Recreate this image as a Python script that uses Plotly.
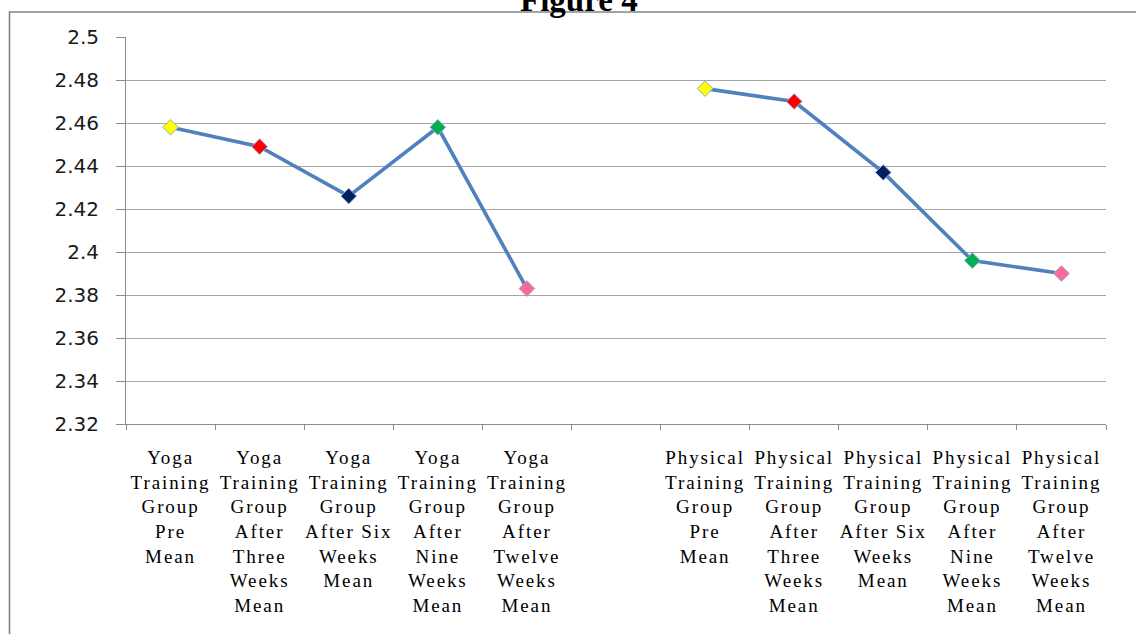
import plotly.graph_objects as go

# Category tick labels (wrapped as in the printed figure); the empty slot separates the two groups
tick_labels = [
    "Yoga<br>Training<br>Group<br>Pre<br>Mean",
    "Yoga<br>Training<br>Group<br>After<br>Three<br>Weeks<br>Mean",
    "Yoga<br>Training<br>Group<br>After Six<br>Weeks<br>Mean",
    "Yoga<br>Training<br>Group<br>After<br>Nine<br>Weeks<br>Mean",
    "Yoga<br>Training<br>Group<br>After<br>Twelve<br>Weeks<br>Mean",
    "",
    "Physical<br>Training<br>Group<br>Pre<br>Mean",
    "Physical<br>Training<br>Group<br>After<br>Three<br>Weeks<br>Mean",
    "Physical<br>Training<br>Group<br>After Six<br>Weeks<br>Mean",
    "Physical<br>Training<br>Group<br>After<br>Nine<br>Weeks<br>Mean",
    "Physical<br>Training<br>Group<br>After<br>Twelve<br>Weeks<br>Mean",
]

# Mean values per measurement (None = gap between the groups)
mean_values = [2.458, 2.449, 2.426, 2.458, 2.383, None, 2.476, 2.470, 2.437, 2.396, 2.390]

y_tick_values = [2.32, 2.34, 2.36, 2.38, 2.40, 2.42, 2.44, 2.46, 2.48, 2.50]
y_tick_labels = ["2.32", "2.34", "2.36", "2.38", "2.4", "2.42", "2.44", "2.46", "2.48", "2.5"]

# Marker fill per stage: pre, 3 weeks, 6 weeks, 9 weeks, 12 weeks
stage_colors = ["#FFFF00", "#FF0000", "#002060", "#00B050", "#FF6699"]
marker_colors = stage_colors + ["#FFFFFF"] + stage_colors

x_pos = list(range(len(tick_labels)))


def spaced(label):
    # widen the serif category text a little, line by line
    return "<br>".join(
        '<span style="letter-spacing:1.9px">%s</span>' % part if part else part
        for part in label.split("<br>")
    )


fig = go.Figure()
fig.add_trace(go.Scatter(
    x=x_pos,
    y=mean_values,
    mode="lines+markers",
    connectgaps=False,
    line=dict(color="#4F81BD", width=3.6),
    marker=dict(symbol="diamond", size=12, color=marker_colors,
                line=dict(color="#8EA9CF", width=1)),
    showlegend=False,
    hoverinfo="x+y",
))

W, H = 1136, 634
L, R, T, B = 126, 30, 37, 210
pw, ph = W - L - R, H - T - B


def px_x(p):
    return (p - L) / pw


def px_y(p):
    return (H - B - p) / ph


fig.update_layout(
    width=W, height=H,
    margin=dict(l=L, r=R, t=T, b=B, pad=0),
    paper_bgcolor="white",
    plot_bgcolor="white",
    xaxis=dict(
        range=[-0.5, len(tick_labels) - 0.5],
        tickmode="array",
        tickvals=x_pos,
        ticktext=[spaced(t) for t in tick_labels],
        ticks="",
        ticklabelstandoff=16,
        tickangle=0,
        showgrid=False,
        zeroline=False,
        showline=True,
        linecolor="#8C8C8C",
        linewidth=1,
        tickfont=dict(family="Liberation Serif", size=19, color="#000000"),
        minor=dict(tickmode="linear", tick0=-0.5, dtick=1, ticks="outside",
                   ticklen=5, tickcolor="#8C8C8C", tickwidth=1, showgrid=False),
        fixedrange=True,
    ),
    yaxis=dict(
        range=[2.32, 2.50],
        tickmode="array",
        tickvals=y_tick_values,
        ticktext=y_tick_labels,
        ticks="outside",
        ticklen=9,
        tickcolor="#8C8C8C",
        tickwidth=1,
        ticklabelstandoff=13,
        showgrid=True,
        gridcolor="#A6A6A6",
        gridwidth=1,
        zeroline=False,
        showline=True,
        linecolor="#8C8C8C",
        linewidth=1,
        tickfont=dict(family="DejaVu Sans", size=20, color="#1A1A1A"),
        fixedrange=True,
    ),
    shapes=[
        dict(type="rect", xref="paper", yref="paper",
             x0=px_x(9.5), x1=px_x(1145), y0=px_y(645), y1=px_y(12),
             line=dict(color="#858585", width=1.6), fillcolor="rgba(0,0,0,0)",
             layer="below"),
    ],
    annotations=[
        dict(text="<b>Figure 4</b>", xref="paper", yref="paper",
             x=px_x(579), y=px_y(20), xanchor="center", yanchor="bottom",
             showarrow=False,
             font=dict(family="Liberation Serif", size=33, color="#000000")),
    ],
)

fig.write_html("out.html")
